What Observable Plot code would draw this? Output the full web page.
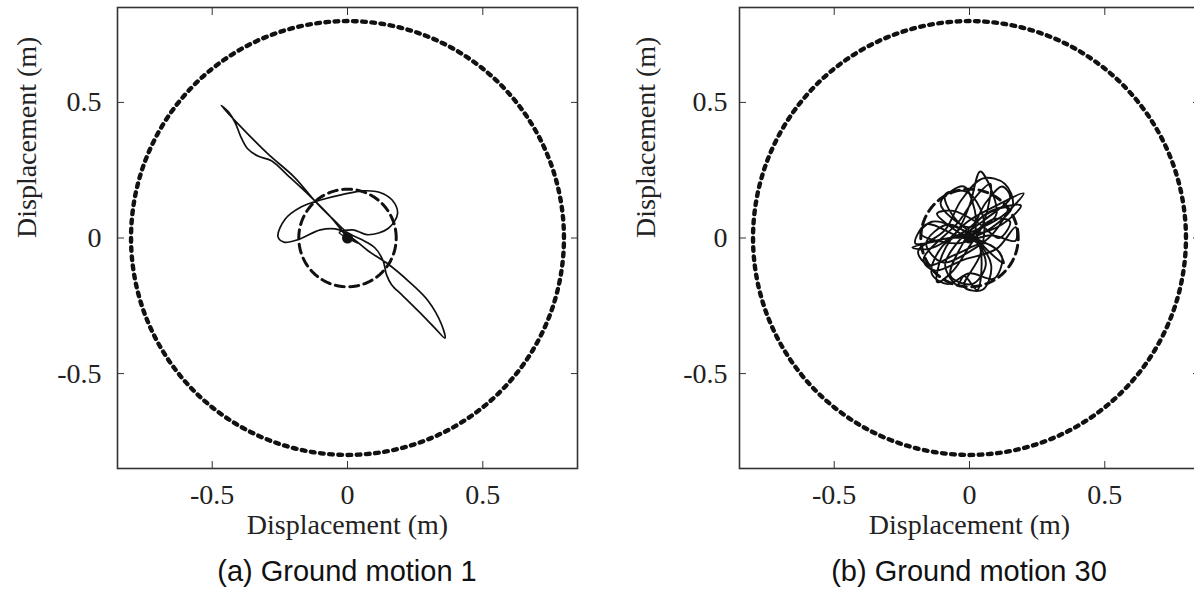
<!DOCTYPE html>
<html>
<head>
<meta charset="utf-8">
<script src="https://cdn.jsdelivr.net/npm/d3@7"></script>
<script src="https://cdn.jsdelivr.net/npm/@observablehq/plot@0.6"></script>
<style>
  html, body { margin: 0; padding: 0; background: #fff; overflow: hidden; }
  #page { position: relative; width: 1194px; height: 602px; overflow: hidden; background: #fff; }
  .panel { position: absolute; top: 0; overflow: visible; }
  .panel svg { max-width: none !important; }
  .caption {
    position: absolute; top: 555px; width: 400px; text-align: center;
    font-family: "Liberation Sans", Arial, sans-serif; font-size: 29px; color: #111;
  }
</style>
</head>
<body>
<div id="page"></div>
<script>
// Axis ticks shared by both panels
const tickValues = [-0.5, 0, 0.5];
const tickLabels = ["-0.5", "0", "0.5"];
const axisDomain = [-0.85, 0.85];
const axisTitle = "Displacement (m)";

// Circle radii (m): outer limit (dotted) and inner target (dashed)
const limitRadius = 0.8;
const targetRadius = 0.18;

// Panel captions
const captions = ["(a) Ground motion 1", "(b) Ground motion 30"];

// Ground motion 1: horizontal displacement orbit (x, y in m)
const gm1X = [0, 0.04, -0.03, 0.02, 0.077, 0.15, 0.185, 0.165, 0.12, 0.06, -0.02, -0.1, -0.17, -0.23, -0.257, -0.235, -0.18, -0.1, -0.03, 0.03,
  0.077, 0.151, 0.225, 0.299, 0.348, 0.36, 0.323, 0.262, 0.2, 0.163, 0.144, 0.132, 0.101, 0.05, 0.0,
  -0.047, -0.121, -0.195, -0.294, -0.393, -0.467, -0.44, -0.415, -0.395, -0.37, -0.331, -0.281, -0.22, -0.133, -0.06, 0];
const gm1Y = [0, -0.02, 0.02, 0.03, 0.012, 0.035, 0.09, 0.14, 0.168, 0.174, 0.16, 0.14, 0.115, 0.07, 0.005, -0.015, -0.005, 0.03, 0.03, -0.01,
  -0.048, -0.097, -0.159, -0.233, -0.32, -0.369, -0.332, -0.27, -0.209, -0.172, -0.135, -0.085, -0.036, -0.005, 0.02,
  0.063, 0.137, 0.223, 0.31, 0.409, 0.489, 0.465, 0.425, 0.375, 0.33, 0.302, 0.285, 0.23, 0.149, 0.075, 0];

// Ground motion 30: horizontal displacement orbit (x, y in m)
const gm30X = [0, 0.05, 0.1, 0.04, 0.0, -0.05, -0.15, -0.211, -0.12, 0.0, 0.12, 0.2, 0.1, -0.02, -0.1, -0.119, -0.06, 0.0,
  0.05, 0.077, 0.03, -0.04, -0.17, -0.13, -0.02, 0.1, 0.17, 0.17, 0.08, -0.05, -0.181, -0.14, -0.05, 0.03, 0.041, 0.028,
  -0.02, -0.045, -0.09, -0.03, 0.06, 0.15, 0.12, 0.06, 0.0, -0.107, -0.021, 0.02, 0.03, 0.127, 0.102, 0.02, -0.08, -0.16,
  -0.1, 0.0, 0.09, 0.14, 0.05, -0.03, -0.07, 0.01, 0.06, 0.03, -0.04, -0.12, -0.06, 0.04, 0.11, 0.15, 0.09, 0,
  0.07, 0.16, 0.13, 0.05, -0.03, -0.09, -0.19, -0.15, -0.05, 0.06, 0.12, 0.09, 0.0, -0.08, -0.14, -0.1, -0.01, 0.08,
  0.19, 0.12, 0.02, -0.06, -0.09, -0.01, 0.05, 0.04, -0.02, 0.05, 0.08, 0.02, -0.07, -0.2, -0.16, -0.05, 0];
const gm30Y = [0, 0.04, 0.09, 0.245, 0.12, 0.02, -0.04, -0.035, -0.01, 0.02, 0.08, 0.165, 0.12, 0.05, -0.06, -0.163, -0.12, -0.03,
  0.05, 0.2, 0.16, 0.06, -0.08, -0.12, -0.08, -0.04, 0.04, -0.01, 0.01, -0.02, 0.017, 0.06, 0.04, -0.01, -0.155, -0.192,
  -0.14, -0.173, -0.1, 0.0, 0.07, 0.15, 0.19, 0.13, 0.04, 0.128, 0.19, 0.1, 0.0, -0.093, -0.044, 0.0, 0.05, -0.02,
  -0.09, -0.05, 0.02, 0.11, 0.08, -0.03, -0.14, -0.17, -0.1, -0.02, 0.02, 0.09, 0.1, 0.05, 0.0, 0.06, 0.07, 0,
  0.03, 0.12, 0.2, 0.22, 0.14, 0.03, -0.05, -0.1, -0.06, -0.02, -0.07, -0.15, -0.13, -0.17, -0.13, -0.03, 0.03, 0.1,
  0.12, 0.05, 0.02, 0.08, 0.16, 0.17, 0.08, -0.06, -0.18, -0.19, -0.1, -0.01, 0.0, -0.02, 0.05, 0.01, 0];

const toPoints = (xs, ys) => xs.map((x, i) => ({x, y: ys[i]}));

// Outline of a circle of radius r centred on the origin
function circle(r, n = 360) {
  return d3.range(n + 1).map(i => {
    const a = (i / n) * 2 * Math.PI;
    return {x: r * Math.cos(a), y: r * Math.sin(a)};
  });
}

const serif = "'Liberation Serif', 'Times New Roman', serif";
const ink = "#111";

function orbitPanel(orbit, {marginLeft, width, yTickPad, yTitleDx, orbitWidth}) {
  const frameBottom = 468;
  const height = 545;
  return Plot.plot({
    width, height,
    marginLeft, marginRight: width - marginLeft - 460,
    marginTop: 7, marginBottom: height - frameBottom,
    x: {domain: axisDomain, label: null},
    y: {domain: axisDomain, label: null},
    style: {background: "transparent", overflow: "visible", maxWidth: "none"},
    marks: [
      Plot.line(circle(limitRadius), {x: "x", y: "y", stroke: ink, strokeWidth: 4.4, strokeDasharray: "3.7 5.5"}),
      Plot.line(circle(targetRadius), {x: "x", y: "y", stroke: ink, strokeWidth: 3, strokeDasharray: "9 5.5"}),
      Plot.line(orbit, {x: "x", y: "y", curve: "catmull-rom", stroke: ink, strokeWidth: orbitWidth}),
      Plot.dot([{x: 0, y: 0}], {x: "x", y: "y", r: 5.5, fill: ink}),
      Plot.frame({stroke: "#333", strokeWidth: 1.6}),
      // inward tick marks on all four sides
      Plot.axisX(tickValues, {anchor: "bottom", tickSize: -7, fill: "none", stroke: "#333", label: null}),
      Plot.axisX(tickValues, {anchor: "top", tickSize: -7, fill: "none", stroke: "#333", label: null}),
      Plot.axisY(tickValues, {anchor: "left", tickSize: -7, fill: "none", stroke: "#333", label: null}),
      Plot.axisY(tickValues, {anchor: "right", tickSize: -7, fill: "none", stroke: "#333", label: null}),
      // tick labels
      Plot.axisX(tickValues, {anchor: "bottom", tickSize: 0, tickPadding: 16, label: null,
        tickFormat: d => tickLabels[tickValues.indexOf(d)], fontSize: 28, fontFamily: serif, fill: "#222"}),
      Plot.axisY(tickValues, {anchor: "left", tickSize: 0, tickPadding: yTickPad, label: null,
        tickFormat: d => tickLabels[tickValues.indexOf(d)], fontSize: 28, fontFamily: serif, fill: "#222"}),
      // axis titles
      Plot.text([axisTitle], {frameAnchor: "bottom", dy: 57, fontSize: 28, fontFamily: serif, fill: "#222", lineAnchor: "middle"}),
      Plot.text([axisTitle], {frameAnchor: "left", dx: yTitleDx, rotate: -90, fontSize: 28, fontFamily: serif, fill: "#222", lineAnchor: "middle"})
    ]
  });
}

const page = document.getElementById("page");
const panels = [
  {orbit: toPoints(gm1X, gm1Y), left: 0, marginLeft: 117, width: 600, yTickPad: 16, yTitleDx: -90, center: 347, orbitWidth: 1.7},
  {orbit: toPoints(gm30X, gm30Y), left: 600, marginLeft: 139, width: 620, yTickPad: 12, yTitleDx: -93, center: 969, orbitWidth: 1.9}
];
panels.forEach((p, i) => {
  const wrap = document.createElement("div");
  wrap.className = "panel";
  wrap.style.left = p.left + "px";
  wrap.style.width = p.width + "px";
  wrap.appendChild(orbitPanel(p.orbit, p));
  page.appendChild(wrap);
  const cap = document.createElement("div");
  cap.className = "caption";
  cap.style.left = (p.center - 200) + "px";
  cap.textContent = captions[i];
  page.appendChild(cap);
});
</script>
</body>
</html>
